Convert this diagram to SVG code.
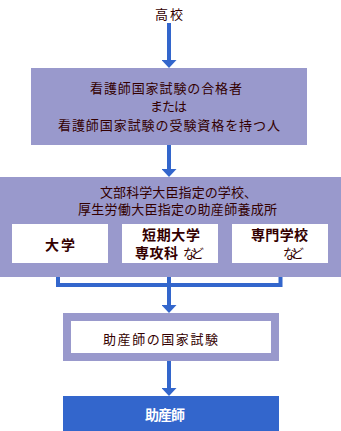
<svg xmlns="http://www.w3.org/2000/svg" width="341" height="431" viewBox="0 0 341 431">
<style>
text{font-family:"Noto Sans CJK JP","Noto Sans CJK SC",sans-serif;font-size:13px;fill:#330000;dominant-baseline:central;text-anchor:middle}
.b{font-weight:bold;font-size:14px}
.w{fill:#ffffff}
.pur{fill:#9999CC}
.wh{fill:#ffffff}
.con{fill:none;stroke:#3366CC;stroke-width:4}
</style>
<defs>
<marker id="ah" viewBox="0 0 8 15" markerWidth="8" markerHeight="15" refX="0" refY="7.5" orient="auto" markerUnits="userSpaceOnUse">
<path d="M0,0 L8,7.5 L0,15 z" fill="#3366CC"/>
</marker>
</defs>
<rect width="341" height="431" fill="#ffffff"/>
<g id="connectors">
<path class="con" d="M169,23 V60" marker-end="url(#ah)"/>
<path class="con" d="M169,145 V169" marker-end="url(#ah)"/>
<path class="con" d="M58,263 V285 H280.5 V263"/>
<path class="con" d="M169,263 V305" marker-end="url(#ah)"/>
<path class="con" d="M169,361 V388" marker-end="url(#ah)"/>
</g>
<g id="koukou">
<text x="169" y="13" textLength="28">高校</text>
</g>
<g id="shikaku">
<rect class="pur" x="31" y="68" width="276" height="77"/>
<text x="166" y="87" textLength="152">看護師国家試験の合格者</text>
<text x="168.5" y="105" textLength="37">または</text>
<text x="169" y="124" textLength="222">看護師国家試験の受験資格を持つ人</text>
</g>
<g id="yousei">
<rect class="pur" x="0" y="177" width="341" height="100"/>
<text x="178.5" y="191" textLength="157">文部科学大臣指定の学校、</text>
<text x="177.5" y="208.5" textLength="199">厚生労働大臣指定の助産師養成所</text>
</g>
<g id="daigaku">
<rect class="wh" x="12" y="224" width="96" height="39"/>
<text class="b" x="60" y="244" textLength="30">大学</text>
</g>
<g id="tandai">
<rect class="wh" x="122" y="224" width="96" height="39"/>
<text class="b" x="171" y="234" textLength="58">短期大学</text>
<text class="b" x="156.5" y="252" textLength="43">専攻科</text>
<text x="193.5" y="252" textLength="21">など</text>
</g>
<g id="senmon">
<rect class="wh" x="232" y="224" width="96" height="39"/>
<text class="b" x="279.5" y="234" textLength="57">専門学校</text>
<text x="293.5" y="252" textLength="21">など</text>
</g>
<g id="shiken">
<rect x="67" y="317" width="208" height="40" fill="#ffffff" stroke="#9999CC" stroke-width="8"/>
<text x="160.5" y="338" textLength="115">助産師の国家試験</text>
</g>
<g id="josanshi">
<rect x="63" y="396" width="216" height="35" fill="#3366CC"/>
<text class="b w" x="165" y="413.5" textLength="40">助産師</text>
</g>
</svg>
